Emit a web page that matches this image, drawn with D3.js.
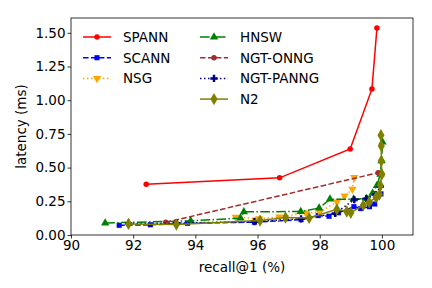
<!DOCTYPE html>
<html>
<head>
<meta charset="utf-8">
<script src="https://cdn.jsdelivr.net/npm/d3@7"></script>
<style>
  body { margin: 0; background: #fff; }
  svg { display: block; font-family: "DejaVu Sans", sans-serif; }
</style>
</head>
<body>
<svg id="chart"></svg>
<script>
const seriesNames = ["SPANN", "SCANN", "NSG", "HNSW", "NGT-ONNG", "NGT-PANNG", "N2"];

const spannX = [92.42, 96.71, 98.98, 99.68, 99.84];
const spannY = [0.377, 0.424, 0.638, 1.084, 1.536];

const scannX = [91.55, 92.55, 93.75, 95.9, 97.4, 97.95, 98.3, 98.6, 99.1, 99.32, 99.6, 99.77, 99.97];
const scannY = [0.072, 0.076, 0.087, 0.095, 0.114, 0.144, 0.139, 0.165, 0.21, 0.196, 0.21, 0.23, 0.305];

const nsgX = [95.3, 96.05, 96.7, 97.55, 98.0, 98.55, 98.8, 99.05, 99.11];
const nsgY = [0.132, 0.122, 0.134, 0.164, 0.17, 0.245, 0.29, 0.34, 0.427];

const hnswX = [91.1, 93.85, 95.45, 95.56, 97.39, 97.98, 98.33, 99.09, 99.5, 99.7, 99.84, 99.95, 99.99, 100.02];
const hnswY = [0.089, 0.105, 0.125, 0.172, 0.174, 0.2, 0.266, 0.266, 0.27, 0.31, 0.367, 0.45, 0.55, 0.69];

const onngX = [93.05, 99.88];
const onngY = [0.094, 0.462];

const panngX = [91.85, 93.4, 95.9, 97.4, 98.5, 99.11, 99.5, 99.8, 99.95];
const panngY = [0.085, 0.088, 0.1, 0.12, 0.16, 0.263, 0.27, 0.3, 0.36];

const n2X = [91.85, 93.39, 96.08, 96.9, 97.66, 98.55, 98.87, 99.0, 99.4, 99.59, 99.81, 99.92, 99.95, 100.0, 99.98, 99.98, 99.97];
const n2Y = [0.082, 0.077, 0.107, 0.13, 0.127, 0.19, 0.174, 0.165, 0.22, 0.243, 0.28, 0.3, 0.367, 0.45, 0.55, 0.66, 0.74];

const xTicks = [90, 92, 94, 96, 98, 100];
const yTicks = [0, 0.25, 0.5, 0.75, 1.0, 1.25, 1.5];

const W = 432, H = 288;
const margin = { left: 71, right: 19, top: 18, bottom: 53 };

const svg = d3.select("#chart").attr("width", W).attr("height", H);

const x = d3.scaleLinear().domain([90, 101]).range([margin.left, W - margin.right]);
const y = d3.scaleLinear().domain([0, 1.61]).range([H - margin.bottom, margin.top]);

const styles = [
  { color: "#ff0000", dash: null, sym: d3.symbolCircle, size: 24, rot: 0 },
  { color: "#0000ff", dash: "5.55,2.4", sym: d3.symbolSquare, size: 26, rot: 0 },
  { color: "#ffa500", dash: "1.5,2.475", sym: d3.symbolTriangle, size: 30, rot: 180 },
  { color: "#008000", dash: "9.6,2.4,1.5,2.4", sym: d3.symbolTriangle, size: 30, rot: 0 },
  { color: "#a52a2a", dash: "5.55,2.4", sym: d3.symbolCircle, size: 24, rot: 0 },
  { color: "#000080", dash: "1.5,2.475", sym: d3.symbolCross, size: 30, rot: 0 },
  { color: "#808000", dash: null, sym: d3.symbolDiamond, size: 44, rot: 0 }
];

const data = [
  [spannX, spannY], [scannX, scannY], [nsgX, nsgY], [hnswX, hnswY],
  [onngX, onngY], [panngX, panngY], [n2X, n2Y]
].map(([xs, ys], i) => ({ name: seriesNames[i], style: styles[i], pts: xs.map((v, j) => [v, ys[j]]) }));

// axes
const gx = svg.append("g").attr("transform", `translate(0,${H - margin.bottom})`)
  .call(d3.axisBottom(x).tickValues(xTicks).tickSize(3.5).tickPadding(2).tickFormat(d3.format("d")));
const gy = svg.append("g").attr("transform", `translate(${margin.left},0)`)
  .call(d3.axisLeft(y).tickValues(yTicks).tickSize(3.5).tickPadding(2).tickFormat(d3.format(".2f")));
[gx, gy].forEach(g => {
  g.select(".domain").remove();
  g.selectAll("text").attr("font-size", 13.5).attr("fill", "#000").attr("font-family", "DejaVu Sans");
  g.selectAll("line").attr("stroke", "#000").attr("stroke-width", 0.8);
});

const line = d3.line().x(d => x(d[0])).y(d => y(d[1]));
const plot = svg.append("g");
data.forEach(s => {
  plot.append("path").attr("d", line(s.pts)).attr("fill", "none")
    .attr("stroke", s.style.color).attr("stroke-width", 1.5)
    .attr("stroke-dasharray", s.style.dash);
  plot.selectAll(null).data(s.pts).enter().append("path")
    .attr("d", d3.symbol().type(s.style.sym).size(s.style.size))
    .attr("transform", d => `translate(${x(d[0])},${y(d[1])}) rotate(${s.style.rot})`)
    .attr("fill", s.style.color);
});

// frame
svg.append("rect").attr("x", margin.left).attr("y", margin.top)
  .attr("width", W - margin.left - margin.right).attr("height", H - margin.top - margin.bottom)
  .attr("fill", "none").attr("stroke", "#000").attr("stroke-width", 0.8);

// axis labels
svg.append("text").attr("x", (margin.left + W - margin.right) / 2).attr("y", 272)
  .attr("text-anchor", "middle").attr("font-size", 13.5).text("recall@1 (%)");
svg.append("text").attr("transform", `translate(26,${(margin.top + H - margin.bottom) / 2}) rotate(-90)`)
  .attr("text-anchor", "middle").attr("font-size", 13.5).text("latency (ms)");

// legend
const legend = svg.append("g");
const cols = [[0, 1, 2], [3, 4, 5, 6]];
const colX = [83, 200];
cols.forEach((idxs, c) => {
  idxs.forEach((i, r) => {
    const s = data[i];
    const ly = 37 + r * 20.7;
    const g = legend.append("g").attr("transform", `translate(${colX[c]},${ly})`);
    g.append("line").attr("x1", 0).attr("x2", 28).attr("stroke", s.style.color)
      .attr("stroke-width", 1.5).attr("stroke-dasharray", s.style.dash);
    g.append("path").attr("d", d3.symbol().type(s.style.sym).size(s.style.size))
      .attr("transform", `translate(14,0) rotate(${s.style.rot})`).attr("fill", s.style.color);
    g.append("text").attr("x", 40).attr("y", 0).attr("dy", "0.36em")
      .attr("font-size", 13.5).text(s.name);
  });
});
</script>
</body>
</html>
